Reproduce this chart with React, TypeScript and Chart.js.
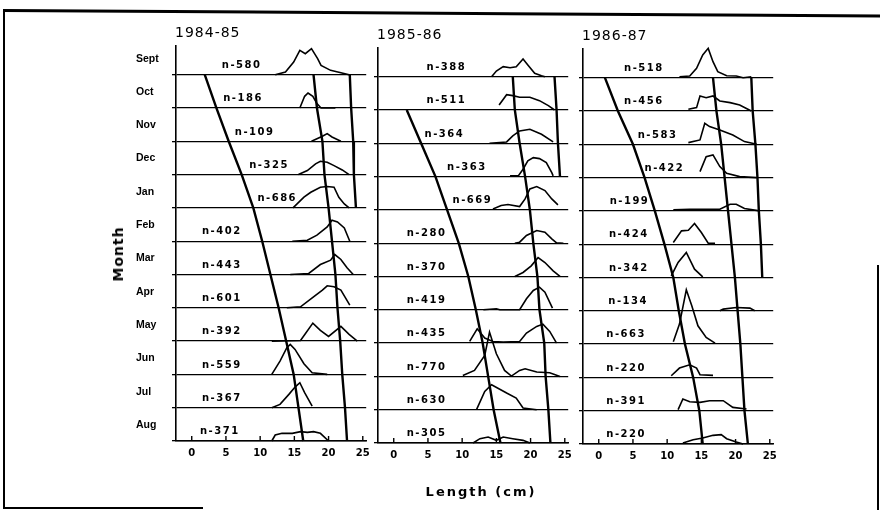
import React, { useEffect, useRef } from 'react';
import { Chart, registerables } from 'chart.js';
Chart.register(...registerables);

// ---------- data ----------
const months = ['Sept', 'Oct', 'Nov', 'Dec', 'Jan', 'Feb', 'Mar', 'Apr', 'May', 'Jun', 'Jul', 'Aug'];
const xTicks = [0, 5, 10, 15, 20, 25];
const seasons = ['1984-85', '1985-86', '1986-87'];

const n8485 = [580, 186, 109, 325, 686, 402, 443, 601, 392, 559, 367, 371];
const n8586 = [388, 511, 364, 363, 669, 280, 370, 419, 435, 770, 630, 305];
const n8687 = [518, 456, 583, 422, 199, 424, 342, 134, 663, 220, 391, 220];

// where each n label starts (cm)
const nAt8485 = [4.4, 4.6, 6.3, 8.4, 9.6, 1.5, 1.5, 1.5, 1.5, 1.5, 1.5, 1.2];
const nAt8586 = [4.8, 4.8, 4.5, 7.8, 8.6, 1.9, 1.9, 1.9, 1.9, 1.9, 1.9, 1.9];
const nAt8687 = [3.7, 3.7, 5.7, 6.7, 1.6, 1.5, 1.5, 1.4, 1.1, 1.1, 1.1, 1.1];

// length-frequency curves: [length cm, relative frequency] per month (Sept..Aug)
const dist8485: number[][][] = [
  [[12.2, 0], [13.7, 0.08], [14.9, 0.38], [15.8, 0.73], [16.6, 0.63], [17.5, 0.78], [18.4, 0.48], [18.9, 0.28], [20.3, 0.13], [21.8, 0.06], [23.0, 0]],
  [[15.8, 0], [16.5, 0.35], [17.0, 0.45], [17.7, 0.35], [18.3, 0.13], [18.9, 0], [21.0, 0]],
  [[17.5, 0], [19.1, 0.15], [19.8, 0.23], [20.5, 0.13], [21.8, 0]],
  [[15.6, 0], [16.9, 0.12], [18.1, 0.32], [18.8, 0.4], [19.8, 0.37], [20.8, 0.27], [22.0, 0.14], [23.0, 0]],
  [[14.8, 0], [16.4, 0.32], [17.4, 0.47], [18.8, 0.62], [19.8, 0.64], [20.8, 0.62], [21.5, 0.32], [22.3, 0.12], [23.0, 0]],
  [[14.7, 0], [16.9, 0.03], [18.3, 0.18], [19.8, 0.43], [20.5, 0.63], [21.3, 0.58], [22.3, 0.4], [23.1, 0]],
  [[14.4, 0], [17.1, 0.03], [18.8, 0.3], [20.3, 0.43], [20.9, 0.6], [21.8, 0.45], [22.7, 0.2], [23.6, 0]],
  [[13.9, 0], [15.9, 0.03], [17.8, 0.33], [19.1, 0.53], [19.8, 0.66], [20.8, 0.63], [21.8, 0.53], [23.1, 0.08]],
  [[11.7, 0], [15.9, 0.02], [16.6, 0.22], [17.7, 0.54], [18.8, 0.32], [20.0, 0.14], [21.8, 0.44], [23.0, 0.2], [24.2, 0]],
  [[11.7, 0], [12.9, 0.4], [13.9, 0.8], [14.4, 0.9], [15.1, 0.75], [16.4, 0.32], [17.6, 0.05], [19.8, 0]],
  [[11.7, 0], [12.9, 0.1], [14.2, 0.4], [15.1, 0.62], [15.8, 0.75], [16.5, 0.45], [17.6, 0.05]],
  [[11.7, 0], [12.2, 0.18], [13.2, 0.23], [14.7, 0.23], [15.9, 0.28], [16.9, 0.26], [17.8, 0.28], [18.8, 0.23], [20.0, 0]],
];
const dist8586: number[][][] = [
  [[14.3, 0], [15.0, 0.17], [16.0, 0.3], [17.0, 0.27], [17.9, 0.3], [18.9, 0.53], [19.6, 0.35], [20.6, 0.1], [21.6, 0.03], [22.1, 0]],
  [[15.4, 0.15], [16.5, 0.46], [17.4, 0.43], [18.4, 0.38], [19.9, 0.38], [21.3, 0.28], [22.6, 0.13], [23.5, 0]],
  [[14.0, 0], [16.5, 0.04], [17.4, 0.22], [18.4, 0.37], [19.9, 0.42], [21.6, 0.27], [23.3, 0.04]],
  [[17.0, 0.02], [18.2, 0.02], [18.9, 0.22], [19.6, 0.47], [20.4, 0.57], [21.3, 0.54], [22.3, 0.42], [23.1, 0.12], [23.3, 0.02]],
  [[14.5, 0.03], [15.7, 0.13], [16.7, 0.16], [18.4, 0.1], [19.2, 0.33], [19.9, 0.63], [20.9, 0.7], [22.1, 0.58], [23.1, 0.33], [24.0, 0.15]],
  [[17.7, 0], [18.4, 0.03], [19.4, 0.23], [20.9, 0.38], [22.1, 0.33], [23.1, 0.13], [23.8, 0.01], [24.8, 0]],
  [[17.7, 0], [18.9, 0.12], [20.1, 0.32], [21.1, 0.57], [22.1, 0.42], [23.3, 0.17], [24.3, 0]],
  [[13.1, 0], [15.0, 0.03], [15.5, 0], [18.4, 0], [19.4, 0.33], [20.4, 0.58], [21.3, 0.68], [22.1, 0.53], [23.2, 0.05]],
  [[11.1, 0.05], [12.2, 0.43], [13.3, 0.15], [14.5, 0.05], [16.0, 0.03], [18.4, 0.05], [19.4, 0.3], [20.9, 0.5], [21.8, 0.57], [22.8, 0.35], [23.8, 0]],
  [[10.1, 0.03], [11.8, 0.18], [13.3, 0.63], [14.0, 1.33], [15.0, 0.68], [16.2, 0.18], [17.2, 0.01], [18.4, 0.18], [19.2, 0.23], [20.9, 0.13], [22.8, 0.11], [24.3, 0]],
  [[12.1, 0], [13.3, 0.55], [14.3, 0.75], [16.5, 0.5], [17.9, 0.35], [18.9, 0.05], [20.9, 0]],
  [[11.6, 0], [12.6, 0.13], [13.8, 0.18], [15.0, 0.08], [16.0, 0.18], [17.4, 0.13], [18.9, 0.08], [19.9, 0]],
];
const dist8687: number[][][] = [
  [[11.8, 0.03], [13.3, 0.05], [14.3, 0.28], [15.2, 0.68], [16.0, 0.88], [16.7, 0.48], [17.4, 0.18], [18.7, 0.06], [20.1, 0.05], [21.1, 0], [22.3, 0.03]],
  [[13.1, 0.05], [14.3, 0.1], [14.8, 0.45], [15.7, 0.4], [16.7, 0.45], [17.7, 0.3], [19.2, 0.25], [20.6, 0.18], [22.3, 0]],
  [[13.1, 0.05], [14.8, 0.13], [15.5, 0.63], [16.2, 0.53], [17.7, 0.43], [19.6, 0.28], [21.3, 0.08], [23.1, 0]],
  [[14.8, 0.18], [15.7, 0.63], [16.7, 0.68], [17.7, 0.33], [18.7, 0.13], [20.6, 0.03], [23.1, 0]],
  [[10.9, 0.03], [13.3, 0.05], [17.7, 0.05], [19.2, 0.2], [20.1, 0.2], [21.3, 0.07], [23.5, 0]],
  [[10.9, 0.05], [12.1, 0.4], [13.1, 0.42], [14.0, 0.62], [15.0, 0.35], [16.0, 0.03], [17.0, 0.03]],
  [[10.6, 0.05], [11.6, 0.45], [12.8, 0.75], [14.0, 0.25], [15.2, 0.02]],
  [[17.7, 0], [18.2, 0.05], [20.1, 0.1], [22.1, 0.08], [22.8, 0]],
  [[10.9, 0.07], [11.8, 0.6], [12.8, 1.63], [13.6, 1.15], [14.5, 0.55], [15.7, 0.2], [17.0, 0.03]],
  [[10.6, 0.05], [11.8, 0.28], [13.3, 0.38], [14.3, 0.28], [14.8, 0.08], [16.7, 0.06]],
  [[11.6, 0.03], [12.3, 0.35], [13.3, 0.27], [14.8, 0.25], [16.2, 0.3], [18.2, 0.3], [19.6, 0.1], [21.6, 0.05]],
  [[12.3, 0.03], [13.8, 0.13], [15.2, 0.18], [16.7, 0.26], [17.9, 0.28], [18.7, 0.16], [20.1, 0.06], [21.1, 0]],
];

// cohort growth lines: length (cm) at each month baseline, Sept..Aug
const growthA8485 = [1.9, 3.6, 5.4, 7.3, 9.0, 10.3, 11.5, 12.7, 13.8, 14.9, 15.6, 16.3];
const growthB8485 = [17.8, 18.3, 19.1, 19.4, 20.0, 20.5, 21.0, 21.3, 21.7, 22.0, 22.4, 22.7];
const growthC8485 = [23.1, 23.3, 23.6, 23.7, 24.0, null, null, null, null, null, null, null];
const growthA8586 = [null, 1.9, 4.0, 6.1, 7.8, 9.5, 10.9, 12.0, 13.0, 13.8, 14.6, 15.6];
const growthB8586 = [17.4, 17.7, 18.4, 19.2, 19.9, 20.4, 21.0, 21.3, 22.0, 22.2, 22.6, 22.9];
const growthC8586 = [23.5, 23.8, 24.0, 24.3, null, null, null, null, null, null, null, null];
const growthA8687 = [0.9, 2.8, 5.0, 6.7, 8.2, 9.6, 10.9, 11.7, 12.6, 13.8, 14.7, 15.2];
const growthB8687 = [16.7, 17.2, 17.9, 18.4, 18.9, 19.4, 19.9, 20.3, 20.7, 21.0, 21.3, 21.8];
const growthC8687 = [22.3, 22.5, 22.9, 23.2, 23.4, 23.7, 23.9, null, null, null, null, null];

// ---------- panels ----------
type PanelDef = {
  season: string;
  n: number[];
  nAt: number[];
  dist: number[][][];
  growth: (number | null)[][];
  showMonths: boolean;
  left: number;
  top: number;
};

const panels: PanelDef[] = [
  { season: seasons[0], n: n8485, nAt: nAt8485, dist: dist8485, growth: [growthA8485, growthB8485, growthC8485], showMonths: true, left: 100, top: 0 },
  { season: seasons[1], n: n8586, nAt: nAt8586, dist: dist8586, growth: [growthA8586, growthB8586, growthC8586], showMonths: false, left: 302, top: 1.5 },
  { season: seasons[2], n: n8687, nAt: nAt8687, dist: dist8687, growth: [growthA8687, growthB8687, growthC8687], showMonths: false, left: 507, top: 3 },
];

const CW = 280;
const CH = 510;
const LAST = months.length - 1;

function makeConfig(p: PanelDef): any {
  const datasets: any[] = [];
  p.dist.forEach((curve, i) => {
    datasets.push({
      data: curve.map(([cm, f]) => ({ x: cm, y: LAST - i + f })),
      borderColor: '#000',
      borderWidth: 1.6,
      pointRadius: 0,
      tension: 0,
      fill: false,
      clip: false,
    });
  });
  p.growth.forEach((g) => {
    datasets.push({
      data: g
        .map((v, i) => (v == null ? null : { x: v, y: LAST - i }))
        .filter((d) => d !== null),
      borderColor: '#000',
      borderWidth: 2.4,
      pointRadius: 0,
      tension: 0,
      fill: false,
      clip: false,
    });
  });

  const annot = {
    id: 'annot',
    afterDraw(chart: any) {
      const { ctx, chartArea, scales } = chart;
      const xs = scales.x;
      const ys = scales.y;
      ctx.save();
      ctx.strokeStyle = '#000';
      ctx.lineWidth = 1.4;
      xTicks.forEach((v) => {
        const px = xs.getPixelForValue(v);
        ctx.beginPath();
        ctx.moveTo(px, chartArea.bottom);
        ctx.lineTo(px, chartArea.bottom - 5);
        ctx.stroke();
      });
      ctx.fillStyle = '#000';
      ctx.textAlign = 'left';
      ctx.textBaseline = 'middle';
      ctx.font = 'bold 10px "DejaVu Sans"';
      (ctx as any).letterSpacing = '1.5px';
      p.n.forEach((n, i) => {
        ctx.fillText('n-' + n, xs.getPixelForValue(p.nAt[i]), ys.getPixelForValue(LAST - i + 0.28));
      });
      ctx.font = '14px "DejaVu Sans"';
      (ctx as any).letterSpacing = '1px';
      ctx.fillText(p.season, chartArea.left - 1, chartArea.top - 12);
      ctx.restore();
    },
  };

  return {
    type: 'line',
    data: { datasets },
    options: {
      responsive: false,
      animation: false,
      events: [],
      layout: { padding: { left: 36, right: 13.8, top: 45.7, bottom: 39 } },
      plugins: { legend: { display: false }, tooltip: { enabled: false }, title: { display: false } },
      scales: {
        x: {
          type: 'linear',
          min: -2.3,
          max: 25.5,
          afterBuildTicks: (s: any) => {
            s.ticks = xTicks.map((v) => ({ value: v }));
          },
          afterFit: (s: any) => {
            s.height = 30;
          },
          grid: { drawOnChartArea: false, drawTicks: false },
          border: { color: '#000', width: 1.6 },
          ticks: {
            color: '#000',
            padding: 6,
            maxRotation: 0,
            autoSkip: false,
            font: { family: 'DejaVu Sans', size: 10, weight: 'bold' },
          },
        },
        y: {
          type: 'linear',
          min: 0,
          max: 11.87,
          afterBuildTicks: (s: any) => {
            s.ticks = months.map((_, i) => ({ value: i }));
          },
          afterFit: (s: any) => {
            s.width = 40;
          },
          grid: { color: '#000', lineWidth: 1.3, drawTicks: true, tickLength: 4 },
          border: { color: '#000', width: 1.6 },
          ticks: {
            color: '#000',
            autoSkip: false,
            crossAlign: 'far',
            labelOffset: -16,
            font: { family: 'Liberation Sans', size: 10.5, weight: 'bold' },
            callback: (v: number) => (p.showMonths ? months[LAST - v] : ''),
          },
        },
      },
    },
    plugins: [annot],
  };
}

function Panel({ p }: { p: PanelDef }) {
  const ref = useRef<HTMLCanvasElement>(null);
  useEffect(() => {
    const chart = new Chart(ref.current as HTMLCanvasElement, makeConfig(p));
    return () => chart.destroy();
  }, [p]);
  return (
    <canvas
      ref={ref}
      width={CW}
      height={CH}
      style={{ position: 'absolute', left: p.left, top: p.top, width: CW, height: CH }}
    />
  );
}

const line = (s: React.CSSProperties): React.CSSProperties => ({ position: 'absolute', background: '#000', ...s });

export default function App() {
  return (
    <div
      style={{
        position: 'absolute',
        left: 0,
        top: 0,
        width: 880,
        height: 510,
        background: '#fff',
        overflow: 'hidden',
        fontFamily: '"DejaVu Sans", sans-serif',
        color: '#000',
      }}
    >
      {/* frame */}
      <div style={line({ left: 3, top: 9, width: 2, height: 500 })} />
      <div style={line({ left: 3, top: 9, width: 880, height: 2.5, transform: 'rotate(0.36deg)', transformOrigin: '0 0' })} />
      <div style={line({ left: 3, top: 507, width: 200, height: 2 })} />
      <div style={line({ left: 877, top: 265, width: 2, height: 245 })} />

      {panels.map((p) => (
        <Panel key={p.season} p={p} />
      ))}

      <div
        style={{
          position: 'absolute',
          left: 118,
          top: 254,
          transform: 'translate(-50%, -50%) rotate(-90deg)',
          fontWeight: 'bold',
          fontSize: 14,
          letterSpacing: 1,
          whiteSpace: 'nowrap',
        }}
      >
        Month
      </div>
      <div
        style={{
          position: 'absolute',
          left: 481,
          top: 491,
          transform: 'translate(-50%, -50%)',
          fontWeight: 'bold',
          fontSize: 13,
          letterSpacing: 2,
          whiteSpace: 'nowrap',
        }}
      >
        Length (cm)
      </div>
    </div>
  );
}
